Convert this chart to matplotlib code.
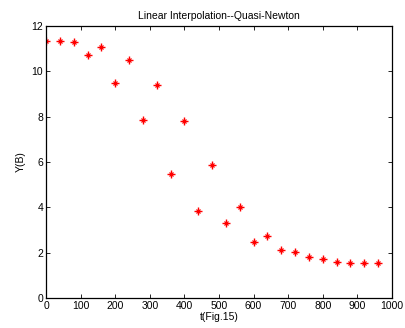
import numpy as np
import matplotlib
matplotlib.use("Agg")
import matplotlib.pyplot as plt

# data
t = [0, 40, 80, 120, 160, 200, 240, 280, 320, 360, 400, 440, 480,
     520, 560, 600, 640, 680, 720, 760, 800, 840, 880, 920, 960]
y = [11.33, 11.33, 11.29, 10.73, 11.08, 9.50, 10.52, 7.85, 9.42, 5.48,
     7.79, 3.82, 5.86, 3.33, 4.03, 2.45, 2.73, 2.10, 2.02, 1.82, 1.71,
     1.59, 1.56, 1.56, 1.56]
xticks = list(range(0, 1001, 100))
yticks = list(range(0, 13, 2))

plt.rcParams['font.family'] = ['Liberation Sans', 'DejaVu Sans']
plt.rcParams['font.size'] = 7.5

fig = plt.figure(figsize=(4.05, 3.28), dpi=100)
ax = fig.add_axes([0.1136, 0.0915, 0.8543, 0.829])

# MATLAB-like 'r*' marker: plus with small cross over it
ax.plot(t, y, linestyle='none', marker='+', color='red', markersize=6, markeredgewidth=1.0)
ax.plot(t, y, linestyle='none', marker='x', color='red', markersize=3, markeredgewidth=0.9)

ax.set_xlim(0, 1000)
ax.set_ylim(0, 12)
ax.set_xticks(xticks)
ax.set_yticks(yticks)
ax.tick_params(direction='in', top=True, right=True, length=3, width=0.6, pad=2)
for s in ax.spines.values():
    s.set_linewidth(0.9)

ax.set_title('Linear Interpolation--Quasi-Newton', fontsize=7.5, pad=5)
ax.set_xlabel('t(Fig.15)', labelpad=1)
ax.set_ylabel('Y(B)', labelpad=4)

fig.savefig('out.png', dpi=100)
